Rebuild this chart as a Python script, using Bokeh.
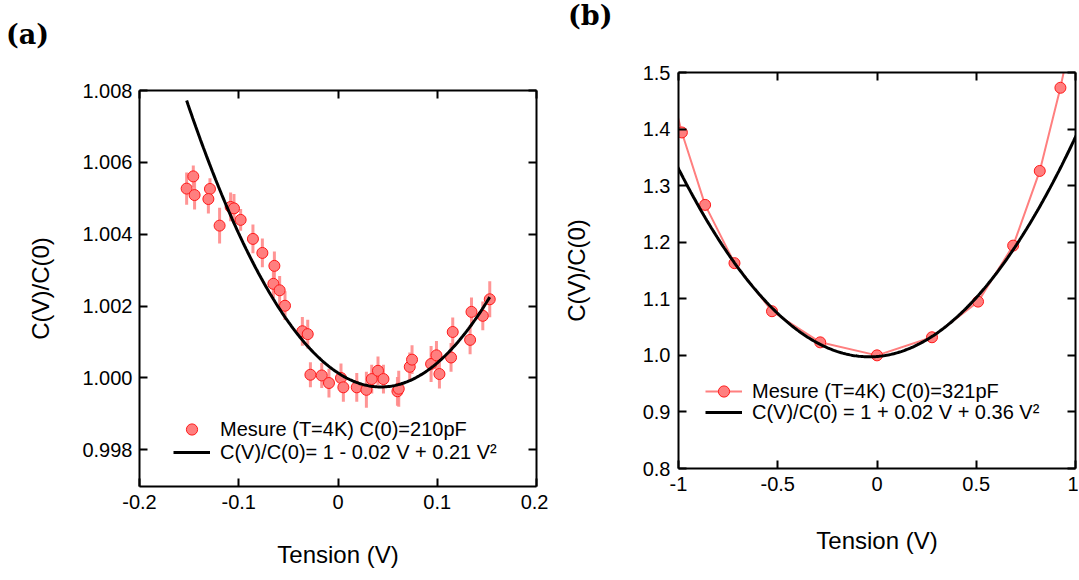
import numpy as np
from bokeh.plotting import figure
from bokeh.layouts import row, column
from bokeh.models import (Range1d, LinearAxis, FixedTicker, Legend, LegendItem,
                          ColumnDataSource, Div)
from bokeh.embed import file_html
from bokeh.resources import INLINE

# ---------------- data: panel (a) ----------------
tension_a = [-0.1525, -0.1458, -0.1445, -0.1290, -0.1306, -0.1193, -0.1082, -0.1048,
             -0.0981, -0.0857, -0.0762, -0.0641, -0.0651, -0.0588, -0.0534, -0.0359,
             -0.0305, -0.0278, -0.0164, -0.0091, 0.0030, 0.0054, 0.0189, 0.0286,
             0.0340, 0.0403, 0.0458, 0.0599, 0.0612, 0.0723, 0.0746, 0.0938,
             0.0992, 0.1022, 0.1139, 0.1156, 0.1331, 0.1345, 0.1459, 0.1529]
ratio_a = [1.00527, 1.00561, 1.00509, 1.00526, 1.00498, 1.00424, 1.00476, 1.00472,
           1.00440, 1.00387, 1.00348, 1.00312, 1.00262, 1.00244, 1.00201, 1.00130,
           1.00122, 1.00009, 1.00007, 0.99986, 1.00000, 0.99974, 0.99974, 0.99967,
           0.99997, 1.00020, 0.99997, 0.99963, 0.99970, 1.00031, 1.00051, 1.00039,
           1.00063, 1.00011, 1.00057, 1.00128, 1.00106, 1.00184, 1.00173, 1.00219]
err_a = [0.00045, 0.00030, 0.00040, 0.00030, 0.00040, 0.00050, 0.00040, 0.00040,
         0.00030, 0.00040, 0.00040, 0.00040, 0.00040, 0.00040, 0.00040, 0.00040,
         0.00040, 0.00035, 0.00035, 0.00040, 0.00040, 0.00040, 0.00040, 0.00050,
         0.00040, 0.00040, 0.00040, 0.00040, 0.00050, 0.00040, 0.00040, 0.00050,
         0.00040, 0.00040, 0.00040, 0.00040, 0.00040, 0.00040, 0.00040, 0.00050]
fit_a_coeffs = [1.00014, -0.018, 0.208]          # a0 + a1 V + a2 V^2 (drawn fit)
fit_a_range = [-0.1525, 0.1529]
xticks_a = [-0.2, -0.1, 0.0, 0.1, 0.2]
xlabels_a = ["-0.2", "-0.1", "0", "0.1", "0.2"]
yticks_a = [0.998, 1.000, 1.002, 1.004, 1.006, 1.008]
ylabels_a = ["0.998", "1.000", "1.002", "1.004", "1.006", "1.008"]
legend_a = ["Mesure (T=4K) C(0)=210pF", "C(V)/C(0)= 1 - 0.02 V + 0.21 V\u00b2"]

# ---------------- data: panel (b) ----------------
tension_b = [-1.12, -0.983, -0.866, -0.718, -0.529, -0.286, 0.0, 0.277, 0.509,
             0.686, 0.820, 0.924, 1.06]
ratio_b = [1.58, 1.394, 1.266, 1.163, 1.078, 1.023, 1.000, 1.032, 1.095,
           1.194, 1.326, 1.473, 1.70]
fit_b_coeffs = [0.998, 0.028, 0.36]
fit_b_range = [-1.1, 1.1]
xticks_b = [-1.0, -0.5, 0.0, 0.5, 1.0]
xlabels_b = ["-1", "-0.5", "0", "0.5", "1"]
yticks_b = [0.8, 0.9, 1.0, 1.1, 1.2, 1.3, 1.4, 1.5]
ylabels_b = ["0.8", "0.9", "1.0", "1.1", "1.2", "1.3", "1.4", "1.5"]
legend_b = ["Mesure (T=4K) C(0)=321pF", "C(V)/C(0) = 1 + 0.02 V + 0.36 V\u00b2"]

FONT = "Liberation Sans"
FILL = "#ff7f7f"
EDGE = "#ff1a1a"


def style_axis(ax, ticks, labels, show_labels=True, label_standoff=7):
    ax.ticker = FixedTicker(ticks=ticks)
    if show_labels:
        ax.major_label_overrides = {t: l for t, l in zip(ticks, labels)}
    else:
        ax.major_label_overrides = {t: "" for t in ticks}
    ax.major_tick_in = 8
    ax.major_tick_out = 0
    ax.minor_tick_line_color = None
    ax.axis_line_width = 2
    ax.major_tick_line_width = 2
    ax.axis_line_color = "black"
    ax.major_tick_line_color = "black"
    ax.major_label_text_font = FONT
    ax.major_label_text_font_size = "20px"
    ax.major_label_text_color = "black"
    ax.major_label_standoff = label_standoff if show_labels else 0
    ax.axis_label_text_font = FONT
    ax.axis_label_text_font_size = "24px"
    ax.axis_label_text_font_style = "normal"
    ax.axis_label_text_color = "black"


def make_fig(width, height, bl, br, bt, bb, xr, yr):
    p = figure(width=width, height=height, output_backend="svg", toolbar_location=None,
               x_range=Range1d(*xr), y_range=Range1d(*yr),
               min_border_left=bl, min_border_right=br, min_border_top=bt,
               min_border_bottom=bb, x_axis_label="Tension (V)",
               y_axis_label="C(V)/C(0)", margin=0)
    p.xgrid.visible = False
    p.ygrid.visible = False
    p.outline_line_color = None
    p.background_fill_color = "white"
    p.border_fill_color = "white"
    return p


def add_mirrors(p, xt, yt):
    top = LinearAxis()
    right = LinearAxis()
    style_axis(top, xt, None, show_labels=False)
    style_axis(right, yt, None, show_labels=False)
    p.add_layout(top, "above")
    p.add_layout(right, "right")


def make_legend(items, loc, gw=37):
    return Legend(items=items, location=loc, border_line_color=None,
                  background_fill_alpha=0, padding=0, margin=0, spacing=0,
                  glyph_width=gw, glyph_height=28, label_height=20,
                  label_standoff=10, label_text_font=FONT,
                  label_text_font_size="20px", label_text_color="black")


def panel_tag(text, width, height, pad_left, pad_top):
    return Div(text=text, width=width, height=height, margin=0,
               styles={"font-family": "DejaVu Serif", "font-weight": "bold",
                       "font-size": "27px", "color": "black",
                       "padding-left": f"{pad_left}px", "padding-top": f"{pad_top}px",
                       "box-sizing": "border-box", "line-height": "32px"})


# ================= panel (a) =================
pa = make_fig(548, 518, 139, 12, 30, 92, (-0.2, 0.2), (0.99698, 1.008))
style_axis(pa.xaxis[0], xticks_a, xlabels_a, label_standoff=8)
style_axis(pa.yaxis[0], yticks_a, ylabels_a, label_standoff=7)
pa.xaxis[0].axis_label_standoff = 29
pa.yaxis[0].axis_label_standoff = 25
add_mirrors(pa, xticks_a, yticks_a)

src_a = ColumnDataSource(dict(
    x=tension_a, y=ratio_a,
    lo=[c - e for c, e in zip(ratio_a, err_a)],
    hi=[c + e for c, e in zip(ratio_a, err_a)]))
pa.segment(x0="x", y0="lo", x1="x", y1="hi", source=src_a,
           line_color="#ff8a8a", line_width=3, line_alpha=0.9)
ra_pts = pa.scatter("x", "y", source=src_a, size=11, fill_color=FILL,
                    line_color=EDGE, line_width=1)
va = np.linspace(fit_a_range[0], fit_a_range[1], 200)
ca = fit_a_coeffs[0] + fit_a_coeffs[1] * va + fit_a_coeffs[2] * va ** 2
ra_fit = pa.line(va, ca, line_color="black", line_width=3)

pa.add_layout(make_legend([LegendItem(label=legend_a[0], renderers=[ra_pts])], (34, 43)), "center")
pa.add_layout(make_legend([LegendItem(label=legend_a[1], renderers=[ra_fit])], (34, 20)), "center")

# ================= panel (b) =================
pb = make_fig(530, 538, 130, 3, 32, 110, (-1.0, 1.0), (0.8, 1.5))
style_axis(pb.xaxis[0], xticks_b, xlabels_b, label_standoff=8)
style_axis(pb.yaxis[0], yticks_b, ylabels_b, label_standoff=8)
pb.xaxis[0].axis_label_standoff = 33
pb.yaxis[0].axis_label_standoff = 50
add_mirrors(pb, xticks_b, yticks_b)

src_b = ColumnDataSource(dict(x=tension_b, y=ratio_b))
rb_line = pb.line("x", "y", source=src_b, line_color=FILL, line_width=2)
rb_pts = pb.scatter("x", "y", source=src_b, size=11, fill_color=FILL,
                    line_color=EDGE, line_width=1)
vb = np.linspace(fit_b_range[0], fit_b_range[1], 300)
cb = fit_b_coeffs[0] + fit_b_coeffs[1] * vb + fit_b_coeffs[2] * vb ** 2
rb_fit = pb.line(vb, cb, line_color="black", line_width=3)

pb.add_layout(make_legend([LegendItem(label=legend_b[0], renderers=[rb_line, rb_pts])], (27, 63)), "center")
pb.add_layout(make_legend([LegendItem(label=legend_b[1], renderers=[rb_fit])], (27, 42)), "center")

tag_a = panel_tag("(a)", 548, 60, 6, 19)
tag_b = panel_tag("(b)", 530, 40, 20, 0)

layout = row(column(tag_a, pa, margin=0), column(tag_b, pb, margin=0), margin=0)
open("out.html", "w").write(file_html(layout, INLINE))
